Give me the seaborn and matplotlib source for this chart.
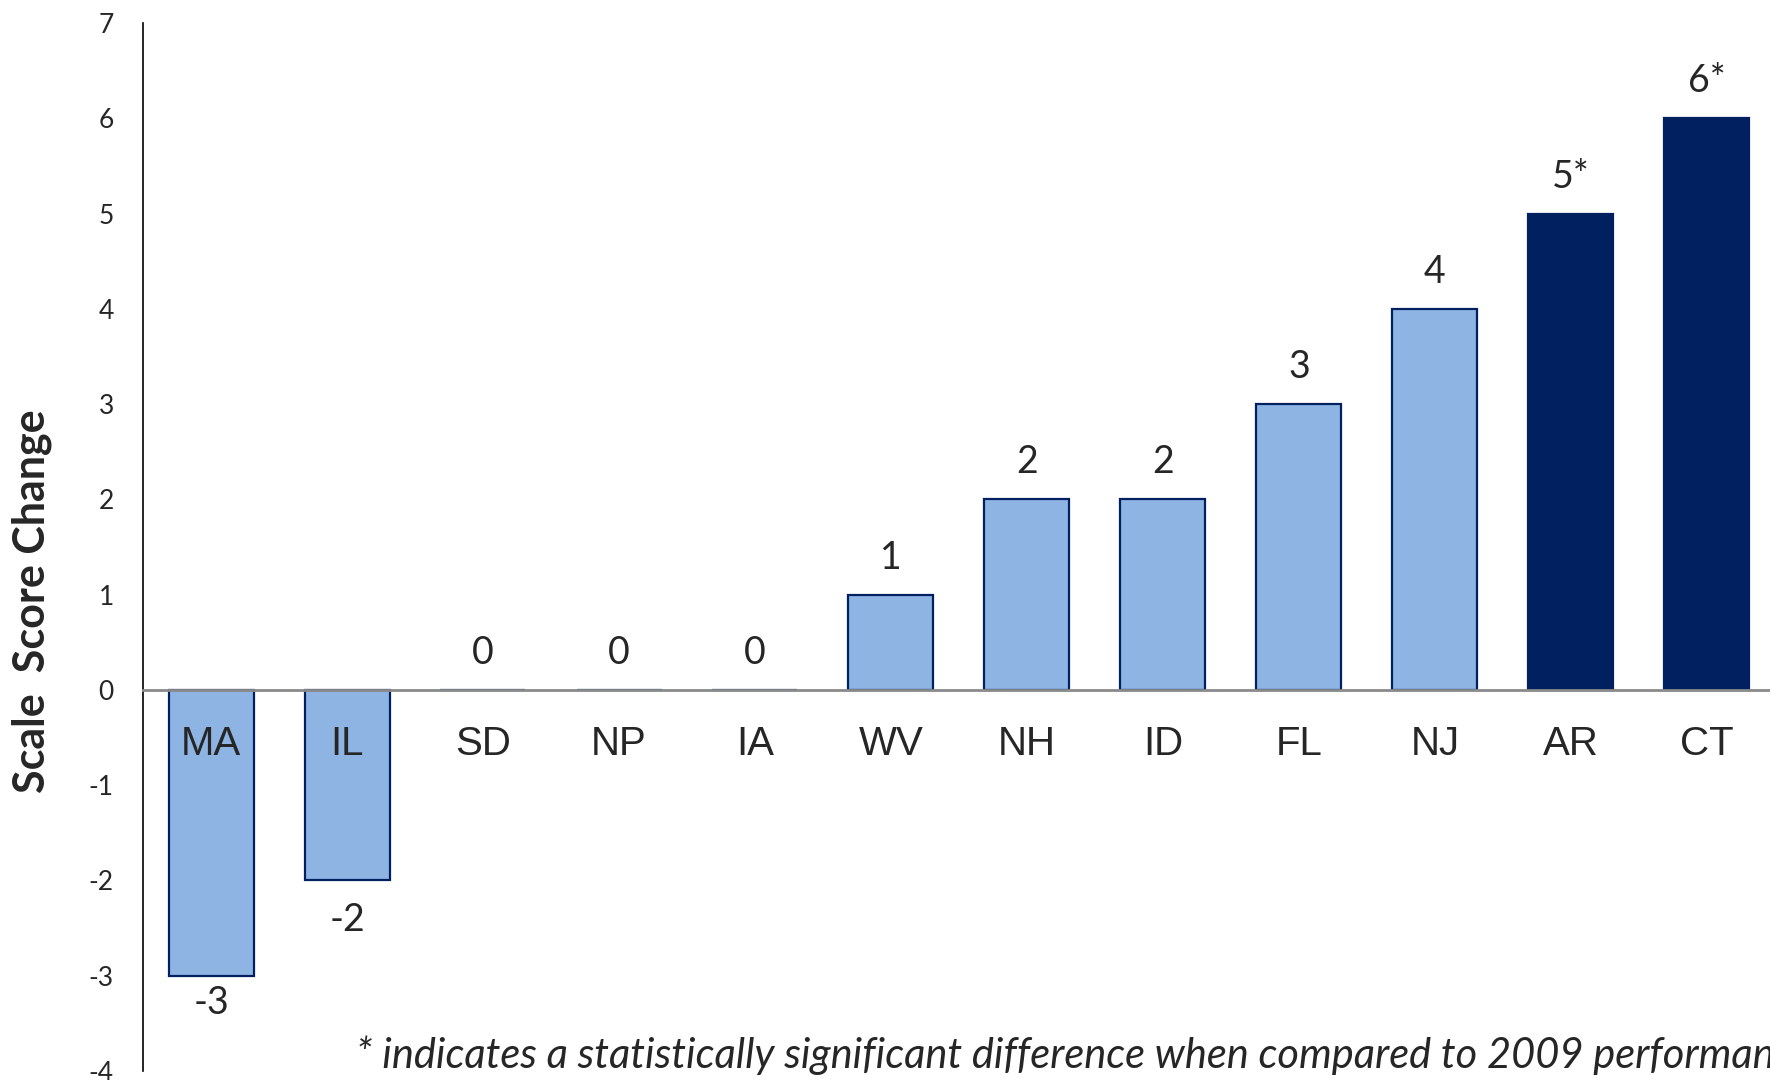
import seaborn as sns
import matplotlib.pyplot as plt
from matplotlib.ticker import FixedLocator

# data
states = ['MA', 'IL', 'SD', 'NP', 'IA', 'WV', 'NH', 'ID', 'FL', 'NJ', 'AR', 'CT']
changes = [-3, -2, 0, 0, 0, 1, 2, 2, 3, 4, 5, 6]
significant = [False, False, False, False, False, False, False, False, False, False, True, True]

light = '#8EB4E3'
dark = '#002060'
palette = {s: (dark if sig else light) for s, sig in zip(states, significant)}

sns.set_style('white')
plt.rcParams['font.family'] = ['Lato', 'DejaVu Sans']
plt.rcParams['axes.unicode_minus'] = False

fig = plt.figure(figsize=(17.7, 10.8), dpi=100)
ax = fig.add_axes([143 / 1770, 9 / 1080, 1632 / 1770, 1048 / 1080])

sns.barplot(x=states, y=changes, hue=states, palette=palette, legend=False,
            width=0.625, edgecolor=dark, linewidth=1.6, saturation=1, ax=ax)
ax.set_axisbelow(False)

ax.set_xlim(-0.5, len(states) - 0.5)
ax.set_ylim(-4, 7)
ax.set_yticks(range(-4, 8))
ax.tick_params(axis='y', length=0, pad=21, labelsize=19)

# x axis at zero, ticks between categories
ax.spines['bottom'].set_position(('data', 0))
ax.spines['bottom'].set_color('#8A8A8A')
ax.spines['bottom'].set_linewidth(2)
ax.spines['top'].set_visible(False)
ax.spines['right'].set_visible(False)
ax.spines['left'].set_color('black')
ax.spines['left'].set_linewidth(1.2)
ax.xaxis.set_major_locator(FixedLocator([i - 0.5 for i in range(len(states) + 1)]))
ax.xaxis.set_minor_locator(FixedLocator(list(range(len(states)))))
ax.set_xticklabels([''] * (len(states) + 1))
ax.set_xticklabels(states, minor=True, fontfamily='Liberation Sans', fontsize=29)
ax.tick_params(axis='x', which='major', length=9, width=1.5, color='#8A8A8A', direction='out')
ax.tick_params(axis='x', which='minor', length=0, pad=25)

# value labels
for i, (v, sig) in enumerate(zip(changes, significant)):
    txt = f'{v}*' if sig else f'{v}'
    if v < 0:
        off = -27 if v == -3 else -40
    else:
        off = 37
    ax.annotate(txt, (i, v), xytext=(0, off * 0.72), textcoords='offset points',
                ha='center', va='center', fontsize=27)

ax.set_ylabel('')
fig.text(32 / 1770, 1 - 601 / 1080, 'Scale  Score Change', rotation=90,
         ha='center', va='center', fontsize=31, fontweight='bold')

fig.text(356 / 1770, 1 - 1068 / 1080,
         '* indicates a statistically significant difference when compared to 2009 performance',
         ha='left', va='baseline', fontsize=30, fontstyle='italic')

fig.savefig('out.png', dpi=100)
